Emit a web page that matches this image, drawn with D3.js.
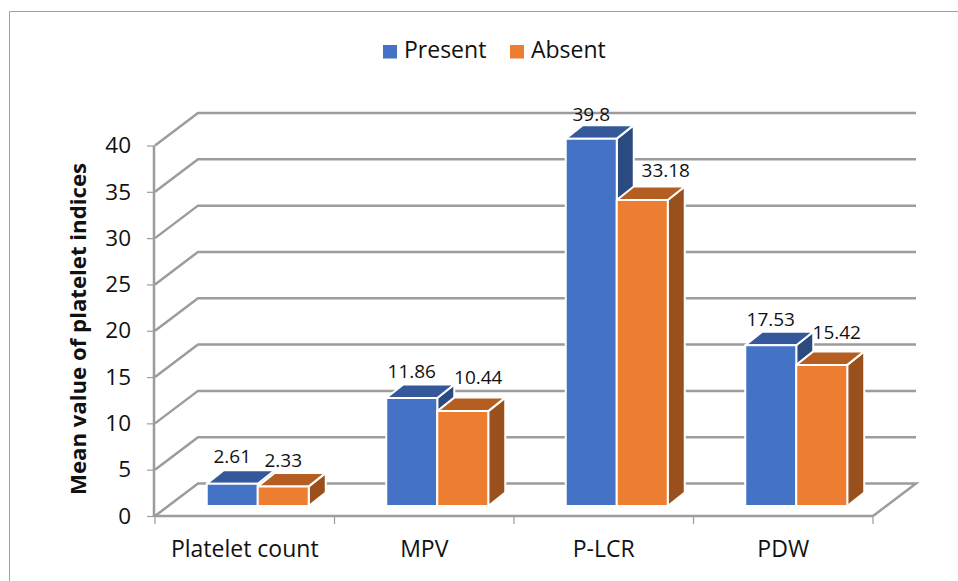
<!DOCTYPE html>
<html>
<head>
<meta charset="utf-8">
<script src="https://d3js.org/d3.v7.min.js"></script>
<style>
  html, body { margin: 0; padding: 0; background: #fff; }
  svg { display: block; }
  text { font-family: "Open Sans", sans-serif; fill: #111; }
</style>
</head>
<body>
<div id="chart"></div>
<script>
var categories = ["Platelet count", "MPV", "P-LCR", "PDW"];
var seriesNames = ["Present", "Absent"];
var present = [2.61, 11.86, 39.8, 17.53];
var absent = [2.33, 10.44, 33.18, 15.42];
var yTicks = [0, 5, 10, 15, 20, 25, 30, 35, 40];
var yTitle = "Mean value of platelet indices";

var width = 958, height = 581;

// front and back planes of the 3d box
var floorLeft = 155, floorRight = 873, floorY = 516;
var wallDx = 43, wallDy = -32.5;
var barDx = 17, barDy = -13.5, barWidth = 51;

var colors = {
  Present: { front: "#4472C4", top: "#34589A", side: "#2A4A80" },
  Absent: { front: "#ED7D31", top: "#B55E21", side: "#9A501C" }
};
var gridColor = "#9c9c9c";

var svg = d3.select("#chart").append("svg")
  .attr("width", width)
  .attr("height", height);

// chart frame, cropped on the right and bottom
svg.append("path")
  .attr("d", "M9.5,581V11.5H958")
  .attr("fill", "none")
  .attr("stroke", "#a0a0a0");

var x = d3.scaleBand().domain(categories).range([floorLeft, floorRight]);
var xInner = d3.scaleBand().domain(seriesNames).range([0, barWidth * 2]);
var y = d3.scaleLinear().domain([0, 40]).range([floorY, 145.5]);
// bars sit a bit inside the box
var yBar = d3.scaleLinear().domain([0, 40]).range([508, 136.8]);
var barBottom = yBar(0) - 2;

// gridlines: left wall diagonal + back wall horizontal
var grid = svg.append("g");
yTicks.forEach(function (t) {
  if (t == 0) return;
  grid.append("path")
    .attr("d", d3.line()([
      [floorLeft, y(t)],
      [floorLeft + wallDx, y(t) + wallDy],
      [floorRight + wallDx, y(t) + wallDy]
    ]))
    .attr("fill", "none")
    .attr("stroke", gridColor)
    .attr("stroke-width", 2.5);
});

// floor
grid.append("path")
  .attr("d", d3.line()([
    [floorLeft, floorY],
    [floorLeft + wallDx, floorY + wallDy],
    [floorRight + wallDx, floorY + wallDy],
    [floorRight, floorY]
  ]))
  .attr("fill", "none")
  .attr("stroke", gridColor)
  .attr("stroke-width", 2.5);
grid.append("line")
  .attr("x1", floorLeft - 1).attr("x2", floorRight)
  .attr("y1", floorY).attr("y2", floorY)
  .attr("stroke", gridColor).attr("stroke-width", 2.5);

// y axis line and ticks
grid.append("line")
  .attr("x1", floorLeft - 1).attr("x2", floorLeft - 1)
  .attr("y1", y(40)).attr("y2", floorY)
  .attr("stroke", gridColor).attr("stroke-width", 2.5);

var yAxis = d3.axisLeft(y).tickValues(yTicks).tickSize(7).tickPadding(16);
var yG = svg.append("g")
  .attr("transform", "translate(" + (floorLeft - 1) + ",0)")
  .call(yAxis);
yG.select(".domain").remove();
yG.selectAll("line").attr("stroke", gridColor).attr("stroke-width", 1.2);
yG.selectAll("text")
  .style("font-size", "22.5px")
  .style("font-family", "'Open Sans', sans-serif")
  .attr("fill", "#111");

// x axis ticks on the band edges
var xTickPos = categories.map(function (c) { return x(c); }).concat([floorRight]);
svg.append("g").selectAll("line")
  .data(xTickPos)
  .join("line")
  .attr("x1", function (d) { return d; })
  .attr("x2", function (d) { return d; })
  .attr("y1", floorY)
  .attr("y2", floorY + 8)
  .attr("stroke", gridColor)
  .attr("stroke-width", 1.2);

svg.append("g").selectAll("text")
  .data(categories)
  .join("text")
  .attr("x", function (d) { return x(d) + x.bandwidth() / 2; })
  .attr("y", 557)
  .attr("text-anchor", "middle")
  .style("font-size", "23px")
  .text(function (d) { return d; });

// bars, one series after the other so orange lies over the blue side
var seriesValues = { Present: present, Absent: absent };
// group starts to the right of the band centre because of the depth
var groupShift = barDx / 2 + 4.5 - barWidth;

function barLeft(cat, name) {
  return x(cat) + x.bandwidth() / 2 + groupShift + xInner(name);
}

seriesNames.forEach(function (name) {
  var g = svg.append("g");
  var bars = g.selectAll("g")
    .data(categories.map(function (c, i) {
      return { cat: c, value: seriesValues[name][i] };
    }))
    .join("g")
    .attr("stroke", "#fff")
    .attr("stroke-width", 2)
    .attr("stroke-linejoin", "round");

  // side
  bars.append("path")
    .attr("fill", colors[name].side)
    .attr("d", function (d) {
      var r = barLeft(d.cat, name) + barWidth, t = yBar(d.value);
      return d3.line()([[r, t], [r + barDx, t + barDy], [r + barDx, barBottom + barDy], [r, barBottom]]) + "Z";
    });
  // top
  bars.append("path")
    .attr("fill", colors[name].top)
    .attr("d", function (d) {
      var l = barLeft(d.cat, name), r = l + barWidth, t = yBar(d.value);
      return d3.line()([[l, t], [l + barDx, t + barDy], [r + barDx, t + barDy], [r, t]]) + "Z";
    });
  // front
  bars.append("rect")
    .attr("fill", colors[name].front)
    .attr("x", function (d) { return barLeft(d.cat, name); })
    .attr("y", function (d) { return yBar(d.value); })
    .attr("width", barWidth)
    .attr("height", function (d) { return barBottom - yBar(d.value); });
});

// data labels, some were dragged off their bar in the original
var labelNudgePresent = [0, 0, 0, 0];
var labelNudgeAbsent = [0, 15.5, 23.5, 15];
var labelRaisePresent = [7, 6, 4.5, 5.5];
var labelRaiseAbsent = [5.7, 13.5, 10, 12];

seriesNames.forEach(function (name, s) {
  var nudge = s == 0 ? labelNudgePresent : labelNudgeAbsent;
  var raise = s == 0 ? labelRaisePresent : labelRaiseAbsent;
  svg.append("g").selectAll("text")
    .data(seriesValues[name])
    .join("text")
    .attr("x", function (d, i) { return barLeft(categories[i], name) + barWidth / 2 + nudge[i]; })
    .attr("y", function (d, i) { return yBar(d) + barDy - raise[i]; })
    .attr("text-anchor", "middle")
    .style("font-size", "19px")
    .text(function (d) { return d; });
});

// y title
svg.append("text")
  .attr("transform", "translate(86,329) rotate(-90)")
  .attr("text-anchor", "middle")
  .style("font-size", "22.2px")
  .style("font-weight", "bold")
  .text(yTitle);

// legend
var legendX = [383, 510];
var legend = svg.append("g").selectAll("g")
  .data(seriesNames)
  .join("g")
  .attr("transform", function (d, i) { return "translate(" + legendX[i] + ",45)"; });
legend.append("rect")
  .attr("width", 14).attr("height", 13.5)
  .attr("fill", function (d) { return colors[d].front; });
legend.append("text")
  .attr("x", 21).attr("y", 13)
  .style("font-size", "23px")
  .text(function (d) { return d; });
</script>
</body>
</html>
